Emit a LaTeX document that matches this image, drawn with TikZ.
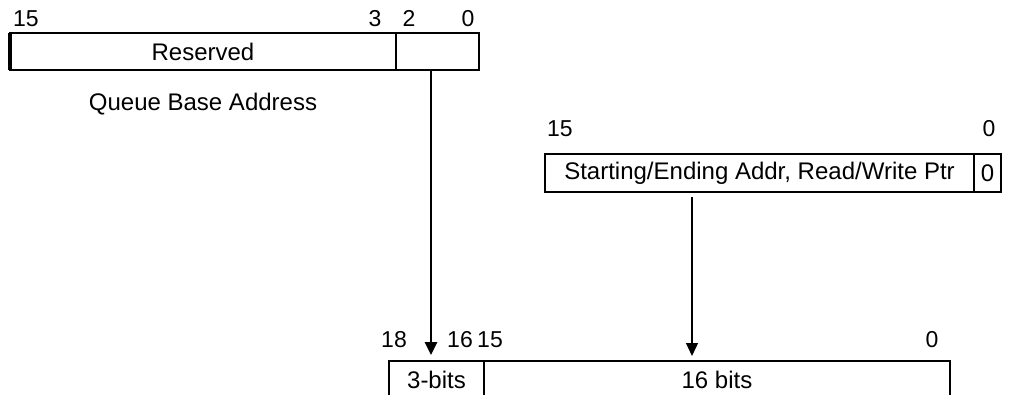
\documentclass[tikz,border=0pt]{standalone}
\usepackage{fontspec}
\setmainfont{Liberation Sans}
\usetikzlibrary{arrows.meta,positioning}

\begin{document}
\begin{tikzpicture}[
  x=1pt, y=-1pt,
  font=\fontsize{24}{29}\selectfont,
  field/.style={draw, line width=2.2pt, minimum height=37pt, inner sep=0pt,
                outer sep=0pt, anchor=north west},
  bitno/.style={anchor=base, inner sep=0pt, font=\fontsize{23}{28}\selectfont},
  bigarrow/.style={-{Triangle[width=12pt,length=13pt]}, line width=2.6pt},
  thinarrow/.style={-{Triangle[width=12pt,length=13pt]}, line width=1.3pt},
]
\clip (0,0) rectangle (1012,395);

% ===== queue base address register =====
\node[bitno, anchor=base west] (r15) at (13,27) {15};
\node[bitno] (r3) at (375,27) {3};
\node[bitno] (r2) at (409,27) {2};
\node[bitno] (r0) at (468,27) {0};
\node[field, minimum width=386pt] (reserved) at (10,33) {Reserved};
\node[field, minimum width=83pt] (lowbits) at (396,33) {};
\draw[line width=4.5pt] (reserved.north west) -- (reserved.south west);
\node (qba) at (203,104) {Queue Base Address};

% ===== pointer register =====
\node[bitno, anchor=base west] (p15) at (547,137) {15};
\node[bitno] (p0) at (989,137) {0};
\node[field, minimum width=429pt, minimum height=38pt] (ptr) at (545,154)
  {Starting/Ending Addr, Read/Write Ptr};
\node[field, minimum width=27pt, minimum height=38pt] (ptr0) at (974,154) {0};

% ===== 19-bit address =====
\node[bitno] (b18) at (394,348) {18};
\node[bitno] (b16) at (460,348) {16};
\node[bitno] (b15) at (490,348) {15};
\node[bitno] (b0) at (932,348) {0};
\node[field, minimum width=95pt] (hibits) at (389,361) {3-bits};
\node[field, minimum width=466pt] (addrbits) at (484,361) {16 bits};

\draw[bigarrow] ([xshift=-6.5pt]lowbits.south) -- ([xshift=-5.5pt,yshift=6pt]hibits.north);
\draw[thinarrow] ([xshift=-67.5pt,yshift=-5pt]ptr.south) -- ([xshift=-25pt,yshift=5pt]addrbits.north);
\end{tikzpicture}
\end{document}
